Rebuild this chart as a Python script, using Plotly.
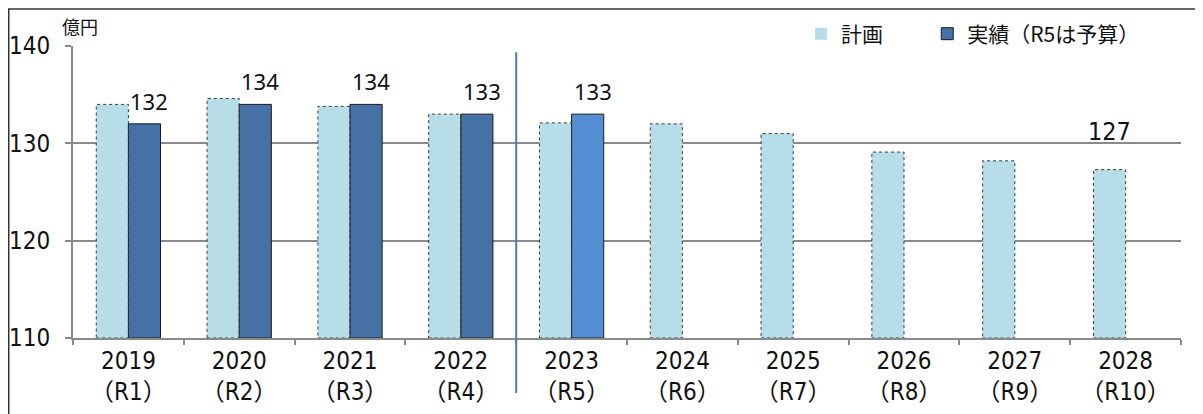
import plotly.graph_objects as go

# Data
years = ["2019", "2020", "2021", "2022", "2023", "2024", "2025", "2026", "2027", "2028"]
reiwa = ["R1", "R2", "R3", "R4", "R5", "R6", "R7", "R8", "R9", "R10"]
plan = [134.0, 134.6, 133.8, 133.0, 132.1, 132.0, 131.0, 129.1, 128.2, 127.3]
actual = [132.0, 134.0, 134.0, 133.0, 133.0, None, None, None, None, None]
actual_colors = ["#4571A6", "#4571A6", "#4571A6", "#4571A6", "#558ED5"]

NARROW = "Liberation Sans Narrow, DejaVu Sans Condensed, Noto Sans CJK JP"
CJK = "Noto Sans CJK JP"
BAR_W = 0.29
GRID = "#8A8A8A"

tick_text = [f"{y}<br>（{r}）" for y, r in zip(years, reiwa)]

fig = go.Figure()
fig.add_trace(go.Bar(
    x=years, y=[v - 110 for v in plan], base=110,
    name="計画", legend="legend",
    width=BAR_W, offset=-BAR_W,
    marker=dict(color="#B7DEE8", line=dict(width=0)),
))
fig.add_trace(go.Bar(
    x=years[:5], y=[v - 110 for v in actual[:5]], base=110,
    name="実績（R5は予算）", legend="legend2",
    width=BAR_W, offset=0,
    marker=dict(color=actual_colors, line=dict(color="#1a1a1a", width=1)),
))

# dotted outline around plan bars (x given as category index)
for i, v in enumerate(plan):
    fig.add_shape(type="rect", xref="x", yref="y",
                  x0=i - BAR_W, x1=i,
                  y0=110, y1=v,
                  line=dict(color="#3a3a3a", width=1, dash="dot"))

# value labels for actuals
for i, v in enumerate(actual):
    if v is None:
        continue
    fig.add_annotation(x=i, y=v, text=f"{v:.0f}", showarrow=False,
                       xshift=5 + 16, yshift=23, yanchor="middle",
                       font=dict(family="Noto Sans, Open Sans", size=22, color="#111"))
fig.add_annotation(x=len(plan) - 1, y=plan[-1], text=f"{plan[-1]:.0f}", showarrow=False,
                   xshift=-16, yshift=38, yanchor="middle",
                   font=dict(family=NARROW, size=25, color="#111"))

# unit
fig.add_annotation(xref="paper", yref="paper", x=0.0063, y=1.070, text="億円",
                   xanchor="center", yanchor="middle",
                   showarrow=False, font=dict(family=CJK, size=18, color="#111"))

# divider between results and plan
fig.add_shape(type="line", xref="x", yref="paper",
              x0=3.5, x1=3.5,
              y0=-0.188, y1=0.979, line=dict(color="#4A7EBB", width=2))

# outer frame
fig.add_shape(type="rect", xref="paper", yref="paper",
              x0=-0.058, x1=1.018, y0=-0.5, y1=1.127,
              line=dict(color="#333333", width=1.5))

fig.update_xaxes(
    type="category", range=[-0.5, len(years) - 0.5],
    tickvals=years, ticktext=tick_text, tickson="boundaries",
    ticks="outside", ticklen=5, tickcolor=GRID, tickwidth=2,
    showline=True, linecolor=GRID, linewidth=2,
    tickfont=dict(family=NARROW, size=24, color="#111"),
    showgrid=False, automargin=False,
)
fig.update_yaxes(
    range=[110, 140], dtick=10,
    ticks="outside", ticklen=6, tickcolor=GRID, tickwidth=2,
    showline=True, linecolor=GRID, linewidth=2,
    gridcolor=GRID, gridwidth=2, zeroline=False,
    tickfont=dict(family=NARROW, size=24, color="#111"),
    ticklabelstandoff=10, automargin=False,
)
legend_style = dict(orientation="h", y=1.041, xanchor="left", yanchor="middle",
                    font=dict(family=CJK, size=21, color="#111"),
                    bgcolor="rgba(0,0,0,0)", itemwidth=30)
fig.update_layout(
    width=1203, height=414,
    margin=dict(l=65, r=30, t=38, b=84, autoexpand=False),
    plot_bgcolor="white", paper_bgcolor="white",
    barmode="overlay",
    showlegend=True,
    legend=dict(x=0.657, **legend_style),
    legend2=dict(x=0.771, **legend_style),
    font=dict(family=CJK),
)

fig.write_html("out.html")
